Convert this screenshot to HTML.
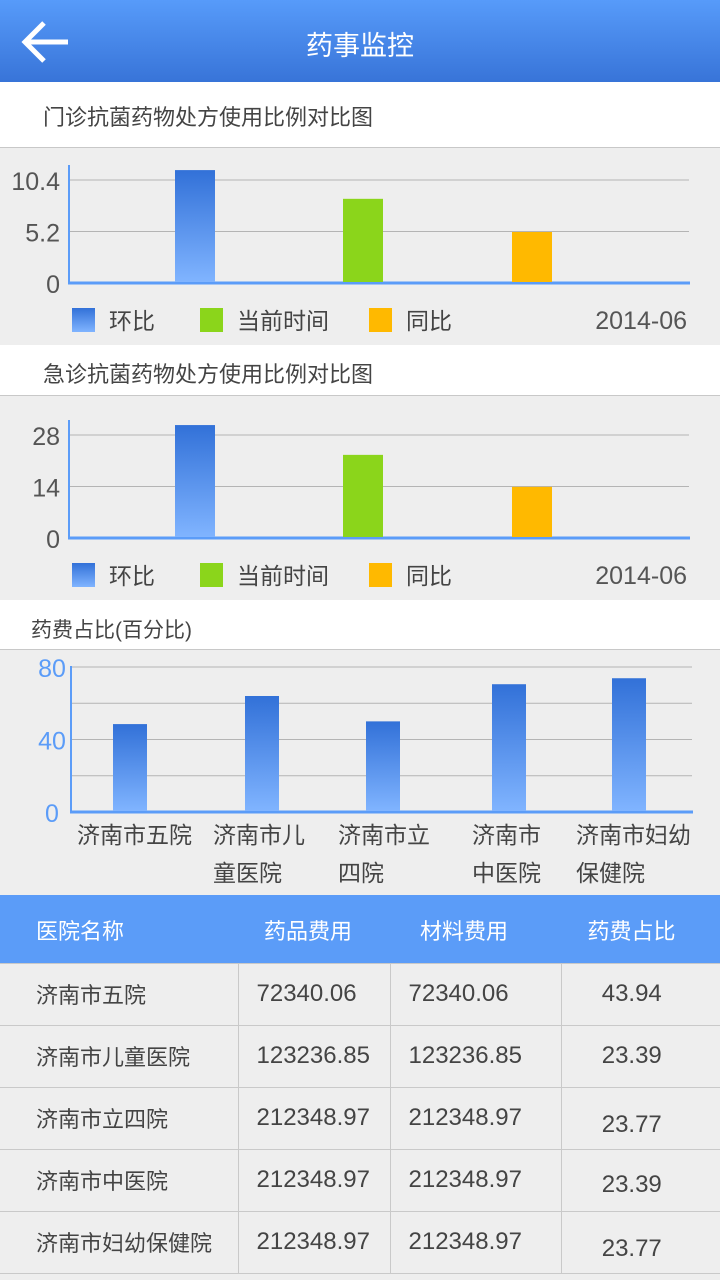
<!DOCTYPE html>
<html><head><meta charset="utf-8"><style>
*{margin:0;padding:0;box-sizing:border-box}
body{width:720px;height:1280px;overflow:hidden;background:#eee;font-family:"Liberation Sans","Noto Sans CJK SC",sans-serif;position:relative}
.abs{position:absolute}
#hdr{left:0;top:0;width:720px;height:82px;background:linear-gradient(#579bfa,#3874d8)}
#hdr .t{left:0;width:720px;top:24px;text-align:center;color:#fff;font-size:27px}
.sec{left:0;width:720px;background:#fff;border-bottom:1px solid #c8c8c8;color:#444;font-size:22px}
table{position:absolute;left:0;top:897px;width:720px;border-collapse:collapse;font-size:22px;color:#444}
th{background:#5b9cf8;color:#fff;font-weight:normal;height:66px;text-align:left}
td{height:62px;border:1px solid #c9c9c9;border-left:none}
td:first-child{padding-left:36px}
td:nth-child(2),td:nth-child(3){padding-left:18px;font-size:24px}
td:nth-child(4){text-align:center;font-size:24px;padding-right:18px}
td:last-child{border-right:none}
</style></head><body>
<div id="hdr" class="abs">
<svg class="abs" style="left:20px;top:20px" width="50" height="44"><path d="M24 3 L5 22 L24 41 M5 22 H48" stroke="#fff" stroke-width="5" fill="none"/></svg>
<div class="abs t">药事监控</div></div>
<div class="abs sec" style="top:82px;height:66px;padding:18px 0 0 43px">门诊抗菌药物处方使用比例对比图</div>
<div class="abs sec" style="top:345px;height:51px;padding:12px 0 0 43px">急诊抗菌药物处方使用比例对比图</div>
<div class="abs sec" style="top:600px;height:50px;padding:14px 0 0 31px;font-size:21px">药费占比(百分比)</div>
<svg id="c" class="abs" style="left:0;top:0" width="720" height="897">
<defs><linearGradient id="bg" x1="0" y1="0" x2="0" y2="1"><stop offset="0" stop-color="#3271d8"/><stop offset="1" stop-color="#80b4ff"/></linearGradient></defs>
</svg>
<table>
<tr><th style="padding-left:36px;width:238px">医院名称</th><th style="width:152px;padding-left:26px">药品费用</th><th style="width:171px;padding-left:30px">材料费用</th><th style="text-align:center;padding-right:18px">药费占比</th></tr>
<tr><td>济南市五院</td><td>72340.06</td><td>72340.06</td><td>43.94</td></tr>
<tr><td>济南市儿童医院</td><td>123236.85</td><td>123236.85</td><td>23.39</td></tr>
<tr><td>济南市立四院</td><td>212348.97</td><td>212348.97</td><td style="padding-top:14px">23.77</td></tr>
<tr><td>济南市中医院</td><td>212348.97</td><td>212348.97</td><td style="padding-top:10px">23.39</td></tr>
<tr><td>济南市妇幼保健院</td><td>212348.97</td><td>212348.97</td><td style="padding-top:14px">23.77</td></tr>
</table>
<script>
const c1Values=[11.4,8.5,5.15];
const c1Ticks=[0,5.2,10.4];
const c2Values=[30.7,22.6,13.9];
const c2Ticks=[0,14,28];
const seriesNames=['环比','当前时间','同比'];
const seriesColors=['url(#bg)','#8bd51b','#ffb900'];
const dateLabel='2014-06';
const c3Categories=[['济南市五院',''],['济南市儿','童医院'],['济南市立','四院'],['济南市','中医院'],['济南市妇幼','保健院']];
const c3Values=[48.5,64,50,70.5,73.8];
const c3Ticks=[0,40,80];
const c3Grid=[20,60];

const svg=document.getElementById('c');const NS='http://www.w3.org/2000/svg';
function el(t,a,txt){const e=document.createElementNS(NS,t);for(const k in a)e.setAttribute(k,a[k]);if(txt!==undefined)e.textContent=txt;svg.appendChild(e);return e;}
function grp(top,h,ticks,vals,name){
  el('rect',{x:0,y:top,width:720,height:h,fill:'#eee'});
  const base=top+135,max=ticks[2],ph=103;
  const y=v=>base-v/max*ph;
  ticks.forEach(t=>{if(t>0){const g=el('line',{x1:70,x2:689,y1:y(t),y2:y(t),stroke:'#b4b4b4','stroke-width':1});}
    const l=el('text',{x:60,y:y(t)+10,'text-anchor':'end','font-size':25,fill:'#555'},String(t));});
  el('line',{x1:69,x2:69,y1:base-118,y2:base+1,stroke:'#5b9cf8','stroke-width':2});
  el('line',{x1:68,x2:690,y1:base,y2:base,stroke:'#5b9cf8','stroke-width':3});
  const xs=[175,343,512];
  vals.forEach((v,i)=>{const b=el('rect',{x:xs[i],y:y(v),width:40,height:base-y(v)-1,fill:seriesColors[i]});
    
    });
  const lx=[72,200,369],ly=base+25;
  seriesNames.forEach((n,i)=>{const s=el('rect',{x:lx[i],y:ly,width:23,height:24,fill:seriesColors[i]});
    
    
    const t=el('text',{x:lx[i]+37,y:ly+21,'font-size':23,fill:'#444'},n);
    
    });
  const d=el('text',{x:687,y:ly+21,'text-anchor':'end','font-size':25,fill:'#555'},dateLabel);
  
  
}
grp(148,196,c1Ticks,c1Values,'c1');
grp(403,197,c2Ticks,c2Values,'c2');
el('rect',{x:0,y:650,width:720,height:247,fill:'#eee'});
const b3=812,p3=145,y3=v=>b3-v/80*p3;
c3Grid.concat([40,80]).forEach(t=>{const g=el('line',{x1:71,x2:692,y1:y3(t),y2:y3(t),stroke:'#b4b4b4','stroke-width':1});});
c3Ticks.forEach(t=>{const l=el('text',{x:52,y:y3(t)+10,'text-anchor':'middle','font-size':25,fill:'#5b9cf8'},String(t));});
el('line',{x1:71,x2:71,y1:666,y2:b3+1,stroke:'#5b9cf8','stroke-width':2});
el('line',{x1:70,x2:693,y1:b3,y2:b3,stroke:'#5b9cf8','stroke-width':3});
const cx3=[130,262,383,509,629],lx3=[77,213,338,472,576];
c3Values.forEach((v,i)=>{const b=el('rect',{x:cx3[i]-17,y:y3(v),width:34,height:b3-y3(v)-1,fill:'url(#bg)'});
  
  
  c3Categories[i].forEach((s,j)=>{const t=el('text',{x:lx3[i],y:843+j*38,'font-size':23,fill:'#444'},s);
    
    });});
el('rect',{x:0,y:895,width:720,height:2,fill:'#5b9cf8'});
</script>
</body></html>
